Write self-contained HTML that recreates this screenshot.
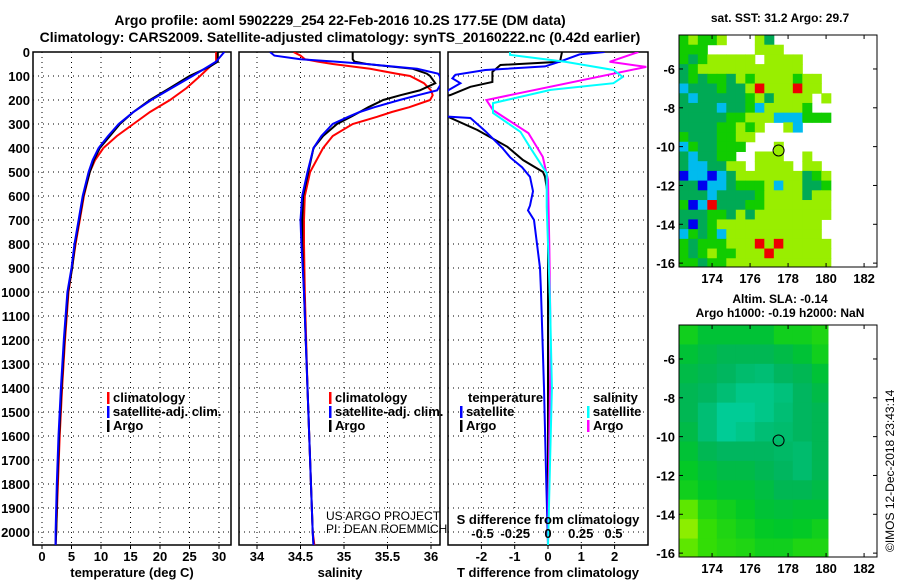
<!DOCTYPE html>
<html><head><meta charset="utf-8">
<style>
html,body{margin:0;padding:0;background:#fff;}
svg{display:block;font-family:"Liberation Sans",sans-serif;font-weight:bold;}
text{fill:#000;}
</style></head>
<body>
<svg id="fig" width="900" height="580" viewBox="0 0 900 580" xmlns="http://www.w3.org/2000/svg">
<text x="340" y="25" font-size="14" text-anchor="middle">Argo profile: aoml 5902229_254 22-Feb-2016 10.2S 177.5E (DM data)</text>
<text x="340" y="42" font-size="14" text-anchor="middle">Climatology: CARS2009. Satellite-adjusted climatology: synTS_20160222.nc (0.42d earlier)</text>
<g id="panels"></g>
<g id="maps"></g>
<text x="0" y="0" font-size="12" font-weight="normal" transform="translate(894,552) rotate(-90)">©IMOS 12-Dec-2018 23:43:14</text>
</svg>
<script>
// ---------- profile data ----------
const tempDepth=[0,40,60,100,150,200,250,300,350,400,450,500,600,700,800,900,1000,1200,1400,1600,1800,2000,2055];
const tempArgo=[29.8,29.8,28.5,25,21.7,18.3,15.5,13.2,11.5,9.8,8.8,8.1,7,6.3,5.6,5.1,4.4,3.8,3.3,2.9,2.6,2.4,2.3];
const tempClim=[29.5,29.5,28.5,26.8,24.5,21.7,18.3,15.5,12.7,10.4,9.0,8.1,7.1,6.4,5.7,5.1,4.5,3.9,3.4,3.0,2.7,2.4,2.3];
const tempSat=[30.9,29.5,28.2,25.5,22,18.5,15.5,13,11.2,9.6,8.6,7.9,6.9,6.2,5.5,5.0,4.3,3.7,3.2,2.8,2.5,2.3,2.3];
const salDepth=[0,15,30,40,50,70,90,100,130,160,180,200,230,250,270,300,350,400,500,600,700,800,1000,1400,2000,2055];
const salArgo=[35.10,35.10,35.10,35.12,35.26,35.79,35.95,35.99,36.05,35.87,35.65,35.45,35.28,35.18,35.08,34.92,34.76,34.65,34.59,34.53,34.52,34.52,34.54,34.58,34.64,34.65];
const salSat=[34.15,34.2,34.5,34.9,35.26,35.84,36.08,36.1,36.12,36.07,35.85,35.64,35.35,35.18,35.05,34.87,34.74,34.65,34.58,34.52,34.5,34.51,34.54,34.58,34.64,34.65];
const salClim=[34.42,34.5,34.55,34.7,34.87,35.3,35.6,35.76,35.92,36.0,36.02,35.99,35.75,35.55,35.38,35.1,34.87,34.76,34.61,34.55,34.54,34.54,34.55,34.58,34.64,34.66];
const tdArgoDepth=[0,41,54,83,125,145,179,200,262,270,325,395,450,500,520,600,800,1000,1500,2000,2055];
const tdArgo=[0.42,0.36,-1.43,-1.67,-1.67,-2.33,-2.93,-3.5,-3.5,-3.0,-2.12,-1.22,-0.75,-0.15,-0.09,0,0,0,0,0,0];
const tdSatDepth=[0,10,40,60,75,95,110,130,160,265,275,330,400,440,480,520,580,640,660,700,800,900,1000,1400,1800,2055];
const tdSat=[1.7,0.95,0.36,-0.09,-1.88,-2.78,-2.87,-2.63,-3.0,-3.5,-2.33,-1.88,-1.37,-1.13,-0.78,-0.54,-0.45,-0.54,-0.6,-0.42,-0.33,-0.24,-0.21,-0.12,-0.05,0.0];
const sdArgoDepth=[0,41,62,200,242,338,437,533,800,1200,2055];
const sdArgo=[0.69,0.47,0.75,-0.47,-0.42,-0.15,-0.04,0.0,0.01,0.02,0.0];
const sdSatDepth=[0,12,41,75,104,130,158,213,254,333,395,505,645,1040,1400,2055];
const sdSat=[-0.29,-0.29,0.13,0.5,0.57,0.5,0.02,-0.42,-0.42,-0.21,-0.14,-0.01,-0.01,0.015,0.03,0.0];
const depthTicks=[0,100,200,300,400,500,600,700,800,900,1000,1100,1200,1300,1400,1500,1600,1700,1800,1900,2000];
const tempTicks=[0,5,10,15,20,25,30];
const salTicks=[34,34.5,35,35.5,36];
const salTickLabels=["34","34.5","35","35.5","36"];
const tdTicks=[-2,-1,0,1,2];
const sdTicks=[-0.5,-0.25,0,0.25,0.5];
const sdTickLabels=["-0.5","-0.25","0","0.25","0.5"];
// ---------- map data ----------
const sstCodes=[
"GLGGL...LD......","GGG.....LLL.....","GDGLLLLL.LLLL...","DGLLLLLLLLLLL...",
"DGDGGDLGLLLLGLL.","CDDDGDDLRLLLRLL.","DCDDDDDGLDLLLL.L","DDDDCDDGCLLLLG..",
"DDDDDGGLLLCCCGGG","DDDDGGLGL..LC...","GDDDGGLL........","CGDDGGG...L.....",
"DCDDGG..LLL..L..","DCCDDLL.LLLL.LL.","BCCBCDLLLLLLLDGL","DDBCCDGGGLCLLDDG",
"DDDCDDDDGLLLLDLL","GBCRDDDGGLLLLLLL","DDDGGDLDLLLLLLLL","DBDGLLLLLLLLLLL.",
"CGDGCLLLLLLLLLL.","GDGGGLLLRLRLLLLL","GDGLGGLLLRLLLLLL","GGDGGLLLLLLLLLLL"];
const slaValues=[
[0,-0.05,-0.05,-0.05,-0.05,0,0,0.02],
[-0.05,-0.08,-0.1,-0.1,-0.1,-0.08,-0.05,0],
[-0.08,-0.1,-0.12,-0.14,-0.15,-0.12,-0.1,-0.05],
[-0.1,-0.12,-0.15,-0.18,-0.18,-0.16,-0.12,-0.08],
[-0.1,-0.15,-0.2,-0.2,-0.18,-0.15,-0.12,-0.1],
[-0.08,-0.15,-0.2,-0.18,-0.15,-0.14,-0.12,-0.1],
[-0.05,-0.1,-0.12,-0.12,-0.12,-0.13,-0.14,-0.1],
[-0.02,-0.06,-0.08,-0.08,-0.1,-0.12,-0.14,-0.1],
[0,-0.03,-0.05,-0.05,-0.07,-0.1,-0.1,-0.08],
[0.1,0.02,0,-0.02,-0.05,-0.06,-0.05,-0.05],
[0.15,0.05,0.02,0,-0.02,-0.03,-0.02,0],
[0.1,0.05,0.03,0.02,0,0,0.02,0.02]];
const lonTicks=[174,176,178,180,182];
const latTicks=[-6,-8,-10,-12,-14,-16];
const argoLon=177.5, argoLat=-10.2;

const NS="http://www.w3.org/2000/svg";
function mk(tag,attrs,parent){const e=document.createElementNS(NS,tag);for(const k in attrs)e.setAttribute(k,attrs[k]);parent.appendChild(e);return e;}
const P=document.getElementById('panels');
const top0=52,bot=545;
const yD=d=>top0+d*0.24;
const panels=[
 {x0:33,x1:231,fx:v=>42+v*5.9,name:'temperature'},
 {x0:239,x1:440,fx:v=>257+(v-34)*87,name:'salinity'},
 {x0:448,x1:648,fx:v=>548+v*33.3,name:'tdiff'}];
const sx=v=>548+v*131;
function lineFrom(g,depths,vals,fx,color,name){
  let d='';for(let i=0;i<depths.length;i++){d+=(i?'L':'M')+fx(vals[i]).toFixed(1)+' '+yD(depths[i]).toFixed(1);}
  const p=mk('path',{d:d,fill:'none',stroke:color,'stroke-width':2},g);
  
  
}
panels.forEach((pn,i)=>{
  const g=mk('g',{},P);
  
  
  const cid='clip'+i;
  const cp=mk('clipPath',{id:cid},g);mk('rect',{x:pn.x0,y:top0,width:pn.x1-pn.x0,height:bot-top0},cp);
  depthTicks.forEach(d=>{if(d>0)mk('line',{x1:pn.x0,x2:pn.x1,y1:yD(d),y2:yD(d),stroke:'#000','stroke-width':1,'stroke-dasharray':'1 4'},g);});
  const vt=i==0?tempTicks:i==1?salTicks:tdTicks;
  vt.forEach((v,k)=>{const x=pn.fx(v);
    mk('line',{x1:x,x2:x,y1:top0,y2:bot,stroke:'#000','stroke-width':1,'stroke-dasharray':'1 4'},g);
    mk('line',{x1:x,x2:x,y1:bot,y2:bot+4,stroke:'#000'},g);
    const t=mk('text',{x:x,y:561,'font-size':13,'text-anchor':'middle'},g);
    t.textContent=i==1?salTickLabels[k]:String(v);
    
    
  });
  mk('rect',{x:pn.x0,y:top0,width:pn.x1-pn.x0,height:bot-top0,fill:'none',stroke:'#000','stroke-width':1.5},g);
  const dg=mk('g',{'clip-path':'url(#'+cid+')'},g);
  if(i==0){lineFrom(dg,tempDepth,tempClim,pn.fx,'#ff0000','temp-climatology-line');lineFrom(dg,tempDepth,tempArgo,pn.fx,'#000','temp-argo-line');lineFrom(dg,tempDepth,tempSat,pn.fx,'#0000ff','temp-satellite-line');}
  if(i==1){lineFrom(dg,salDepth,salClim,pn.fx,'#ff0000','sal-climatology-line');lineFrom(dg,salDepth,salArgo,pn.fx,'#000','sal-argo-line');lineFrom(dg,salDepth,salSat,pn.fx,'#0000ff','sal-satellite-line');}
  if(i==2){lineFrom(dg,tdArgoDepth,tdArgo,pn.fx,'#000','tdiff-argo-line');lineFrom(dg,tdSatDepth,tdSat,pn.fx,'#0000ff','tdiff-satellite-line');
    lineFrom(dg,sdArgoDepth,sdArgo,sx,'#ff00ff','sdiff-argo-line');lineFrom(dg,sdSatDepth,sdSat,sx,'#00ffff','sdiff-satellite-line');}
});
depthTicks.forEach(d=>{const t=mk('text',{x:30,y:yD(d)+5,'font-size':13,'text-anchor':'end'},P);t.textContent=d;
 
 });
function txt(x,y,s,name,opt){const t=mk('text',Object.assign({x:x,y:y,'font-size':13},opt||{}),P);t.textContent=s;
 
 return t;}
txt(132,577,'temperature (deg C)','x-axis-title-temperature',{'text-anchor':'middle'});
txt(340,577,'salinity','x-axis-title-salinity',{'text-anchor':'middle'});
txt(548,577,'T difference from climatology','x-axis-title-tdiff',{'text-anchor':'middle'});
txt(548,524,'S difference from climatology','s-axis-title',{'text-anchor':'middle'});
sdTicks.forEach((v,k)=>txt(sx(v),538,sdTickLabels[k],'s-tick-label',{'text-anchor':'middle'}));
txt(326,520,'US ARGO PROJECT','project-credit',{'font-weight':'normal','font-size':12});
txt(326,533,'PI: DEAN ROEMMICH','pi-credit',{'font-weight':'normal','font-size':12});
function leg(x,y,color,s,name){const r=mk('rect',{x:x,y:y-10,width:2.5,height:12,fill:color},P);
 
 
 txt(x+6,y,s,name);}
leg(107,402,'#ff0000','climatology','legend-temp-climatology');
leg(107,416,'#0000ff','satellite-adj. clim.','legend-temp-satellite');
leg(107,430,'#000','Argo','legend-temp-argo');
leg(329,402,'#ff0000','climatology','legend-sal-climatology');
leg(329,416,'#0000ff','satellite-adj. clim.','legend-sal-satellite');
leg(329,430,'#000','Argo','legend-sal-argo');
txt(468,402,'temperature','legend-temperature-header');
txt(593,402,'salinity','legend-salinity-header');
leg(460,416,'#0000ff','satellite','legend-tdiff-satellite');
leg(460,430,'#000','Argo','legend-tdiff-argo');
leg(587,416,'#00ffff','satellite','legend-sdiff-satellite');
leg(587,430,'#ff00ff','Argo','legend-sdiff-argo');

// ---------- maps ----------
const M=document.getElementById('maps');
const sstColors={L:'#99ee00',G:'#11cc00',D:'#00aa55',C:'#00bbee',B:'#0000ee',R:'#ee0000'};
function slaColor(v){const t=Math.max(0,Math.min(1,(v+0.2)/0.35));
 const stops=[[0,204,150],[0,180,90],[0,200,40],[60,225,0],[140,238,0]];
 const f=t*(stops.length-1),i=Math.min(stops.length-2,Math.floor(f)),u=f-i;
 const c=stops[i].map((a,k)=>Math.round(a+(stops[i+1][k]-a)*u));return 'rgb('+c.join(',')+')';}
function drawMap(y0,y1,title1,title2,kind,name){
  const x0=679,x1=877;
  const g=mk('g',{},M);
  
  
  const lonL=172.26,lonR=182.68,latT=-4.25,latB=-16.2;
  const fx=lon=>x0+(lon-lonL)/(lonR-lonL)*(x1-x0);
  const fy=lat=>y0+(latT-lat)/(latT-latB)*(y1-y0);
  const cp=mk('clipPath',{id:'c'+name},g);mk('rect',{x:x0,y:y0,width:x1-x0,height:y1-y0},cp);
  const cg=mk('g',{'clip-path':'url(#c'+name+')'},g);
  if(kind=='sst'){
    sstCodes.forEach((row,r)=>{for(let c=0;c<row.length;c++){const ch=row[c];if(ch=='.')continue;
      const lon=172.25+c*0.5,lat=-4.25-r*0.5;
      const cell=mk('rect',{x:fx(lon),y:fy(lat),width:fx(lon+0.5)-fx(lon)+0.5,height:fy(lat-0.5)-fy(lat)+0.5,fill:sstColors[ch]},cg);
      
      }});
  } else {
    slaValues.forEach((row,r)=>row.forEach((v,c)=>{const lon=172.25+c,lat=-4.25-r;const lonE=Math.min(lon+1,180.1);
      const cell=mk('rect',{x:fx(lon),y:fy(lat),width:fx(lonE)-fx(lon)+0.5,height:fy(lat-1)-fy(lat)+0.5,fill:slaColor(v)},cg);
      
      }));
  }
  const mark=mk('circle',{cx:fx(argoLon),cy:fy(argoLat),r:5.5,fill:'none',stroke:'#000','stroke-width':1},g);
  
  
  mk('rect',{x:x0,y:y0,width:x1-x0,height:y1-y0,fill:'none',stroke:'#000','stroke-width':1},g);
  lonTicks.forEach(l=>{const x=fx(l);mk('line',{x1:x,x2:x,y1:y0,y2:y0+4,stroke:'#000'},g);mk('line',{x1:x,x2:x,y1:y1,y2:y1-4,stroke:'#000'},g);
    const t=mk('text',{x:x,y:y1+16,'font-size':13,'text-anchor':'middle'},g);t.textContent=l;
    
    });
  latTicks.forEach(l=>{const y=fy(l);mk('line',{x1:x0,x2:x0+4,y1:y,y2:y,stroke:'#000'},g);mk('line',{x1:x1,x2:x1-4,y1:y,y2:y,stroke:'#000'},g);
    const t=mk('text',{x:x0-4,y:y+5,'font-size':13,'text-anchor':'end'},g);t.textContent=l;
    
    });
  const t1=mk('text',{x:780,y:y0-(title2?22:13),'font-size':12,'text-anchor':'middle'},g);t1.textContent=title1;
  
  
  if(title2){const t2=mk('text',{x:780,y:y0-8,'font-size':12,'text-anchor':'middle'},g);t2.textContent=title2;
    
    }
}
drawMap(35,267,'sat. SST: 31.2 Argo: 29.7',null,'sst','sst-map');
drawMap(325,557,'Altim. SLA: -0.14','Argo h1000: -0.19 h2000: NaN','sla','sla-map');
</script>
</body></html>
